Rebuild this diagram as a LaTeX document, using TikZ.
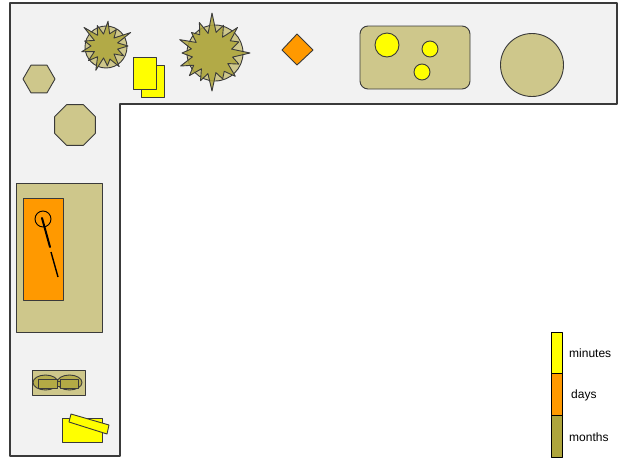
\documentclass[tikz,border=0pt]{standalone}
\usepackage{fontspec}
\setmainfont{Liberation Sans}
\begin{document}
\begin{tikzpicture}[x=1pt,y=-1pt,line join=round]
\definecolor{bg}{HTML}{F2F2F2}
\definecolor{tanc}{HTML}{CEC78B}
\definecolor{olivec}{HTML}{AEA53C}
\definecolor{olivedk}{HTML}{B3AA45}
\definecolor{yel}{HTML}{FFFF00}
\definecolor{org}{HTML}{FF9900}
\definecolor{edge}{HTML}{3A3A3A}
\tikzset{
  thing/.style={draw=edge,line width=0.9pt},
  tanshape/.style={thing,fill=tanc},
  yelshape/.style={thing,fill=yel},
  orgshape/.style={thing,fill=org},
  starshape/.style={thing,fill=olivec,fill opacity=0.85},
  legendbar/.style={draw=black,line width=0.8pt},
  legendtext/.style={anchor=west,inner sep=0pt,font=\fontsize{12}{12}\selectfont}
}
\useasboundingbox (0,0) rectangle (623,458);
\fill[white] (0,0) rectangle (623,458);
% L-shaped area
\draw[fill=bg,draw=edge,line width=1.1pt] (10,3) -- (617,3) -- (617,104) -- (120,104) -- (120,456) -- (10,456) -- cycle;
% hexagon
\draw[tanshape,shift={(39,79)}] (0:16) -- (60:16) -- (120:16) -- (180:16) -- (240:16) -- (300:16) -- cycle;
% octagon
\draw[tanshape,shift={(75,125)}] (22.5:22) -- (67.5:22) -- (112.5:22) -- (157.5:22) -- (202.5:22) -- (247.5:22) -- (292.5:22) -- (337.5:22) -- cycle;
% small star
\draw[tanshape] (106,47) circle[radius=21];
\draw[starshape,shift={(105,46)}] (0:23) \foreach \r [count=\i] in {13,21,12,25,14,20,12,26,13,22,12,24,14,21,12,28,13,22,12,25,13,20,12,29,13} {-- ({\i*360/26}:\r)} -- cycle;
% yellow squares
\draw[yelshape] (141,65) rectangle (164,97);
\draw[yelshape] (133,57) rectangle (156,89);
% big star
\draw[tanshape] (215,53) circle[radius=28];
\draw[starshape,shift={(212,53)}] (0:38) \foreach \r [count=\i] in {21,29,19,33,22,28,20,38,21,30,19,32,22,34,20,30,21,35,19,29,22,33,20,40,21,30,19,36,22,29,20} {-- ({\i*360/32}:\r)} -- cycle;
% diamond
\draw[orgshape] (297,34) -- (313,50) -- (297,65) -- (282,50) -- cycle;
% rounded rect with dots
\draw[tanshape,rounded corners=8pt] (360,26) rectangle (470,89);
\draw[yelshape] (387,45) circle[radius=12];
\draw[yelshape] (430,49) circle[radius=8];
\draw[yelshape] (422,72) circle[radius=8];
% big circle
\draw[tanshape] (532,65) circle[radius=31.5];
% big table with orange
\draw[tanshape] (16,183) rectangle (102,332);
\draw[orgshape] (23,198) rectangle (63,300);
\draw[draw=black,line width=0.9pt] (43,219) circle[radius=8];
\draw[black,line width=2pt,line cap=round] (42,218) -- (50,247);
\draw[black,line width=1.4pt] (51,252) -- (58,277);
% glasses
\draw[tanshape] (32,370) rectangle (85,395);
\draw[thing,fill=olivec,fill opacity=0.75] (45.5,382.5) ellipse[x radius=12.5,y radius=7.5];
\draw[thing,fill=olivec,fill opacity=0.75] (69.5,382.5) ellipse[x radius=12.5,y radius=7.5];
\draw[draw=edge,line width=0.5pt,fill=olivedk] (38,379) rectangle (57,388);
\draw[draw=edge,line width=0.5pt,fill=olivedk] (60,379) rectangle (78,388);
\draw[draw=edge,line width=0.5pt,fill=olivedk] (57,381) rectangle (60,386);
% yellow box with tilted lid
\draw[yelshape] (62,418) rectangle (102,442);
\draw[yelshape] (71,414) -- (109,425) -- (107,434) -- (69,422) -- cycle;
% legend
\draw[legendbar,fill=yel] (551,332) rectangle (562,373);
\draw[legendbar,fill=org] (551,373) rectangle (562,415);
\draw[legendbar,fill=olivec] (551,415) rectangle (562,457);
\node[legendtext] (lmin) at (569,353) {minutes};
\node[legendtext] (ldays) at (571,395) {days};
\node[legendtext] (lmon) at (569,437) {months};
\end{tikzpicture}
\end{document}
